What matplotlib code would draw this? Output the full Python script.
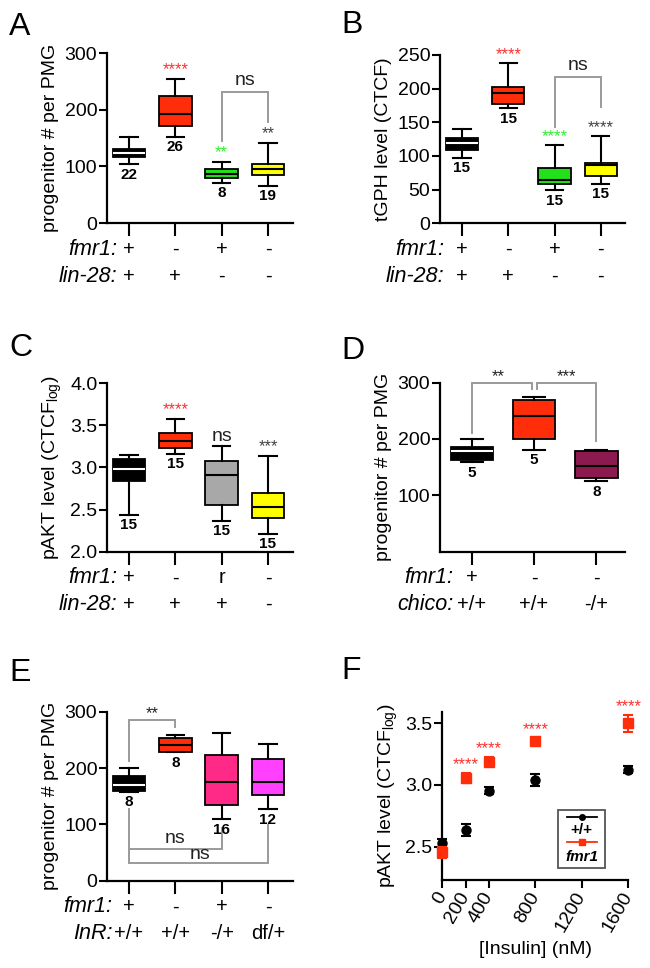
import matplotlib
matplotlib.use('Agg')
import matplotlib.pyplot as plt
from matplotlib.patches import Rectangle
from matplotlib.lines import Line2D

plt.rcParams['font.family'] = ['Liberation Sans', 'DejaVu Sans']
plt.rcParams['mathtext.fontset'] = 'custom'
plt.rcParams['mathtext.rm'] = 'Liberation Sans'
plt.rcParams['mathtext.it'] = 'Liberation Sans:italic'

RED = '#ff2d0a'
GREEN = '#22e01a'
YELLOW = '#ffff00'
GRAY = '#a8a8a8'
PURPLE = '#8c1a4e'
PINK = '#ff2a88'
MAGENTA = '#ff40ff'
BRACKET = '#9a9a9a'
STAR_RED = '#ff3030'
STAR_GREEN = '#30f030'
STAR_DARK = '#404040'

# ---- panel A: progenitor # per PMG
a_lo = [104, 152, 71, 66]
a_q1 = [116, 171, 80, 85]
a_med = [123, 192, 87, 95]
a_q3 = [130, 225, 95, 105]
a_hi = [152, 255, 108, 142]
a_n = ['22', '26', '8', '19']
a_stars = ['', '****', '**', '**']
a_fmr1 = ['+', '-', '+', '-']
a_lin28 = ['+', '+', '-', '-']

# ---- panel B: tGPH level
b_lo = [97, 171, 49, 59]
b_q1 = [109, 177, 59, 71]
b_med = [120, 193, 64, 86]
b_q3 = [126, 203, 82, 89]
b_hi = [140, 238, 116, 129]
b_n = ['15', '15', '15', '15']
b_stars = ['', '****', '****', '****']
b_fmr1 = ['+', '-', '+', '-']
b_lin28 = ['+', '+', '-', '-']

# ---- panel C: pAKT level
c_lo = [2.44, 3.16, 2.37, 2.21]
c_q1 = [2.84, 3.23, 2.56, 2.40]
c_med = [2.98, 3.315, 2.91, 2.53]
c_q3 = [3.10, 3.41, 3.08, 2.70]
c_hi = [3.15, 3.58, 3.25, 3.14]
c_n = ['15', '15', '15', '15']
c_stars = ['', '****', 'ns', '***']
c_fmr1 = ['+', '-', 'r', '-']
c_lin28 = ['+', '+', '+', '-']

# ---- panel D: chico
d_lo = [159, 181, 125]
d_q1 = [162, 200, 131]
d_med = [178, 240, 152]
d_q3 = [186, 269, 178]
d_hi = [200, 275, 180]
d_n = ['5', '5', '8']
d_fmr1 = ['+', '-', '-']
d_chico = ['+/+', '+/+', '-/+']

# ---- panel E: InR
e_lo = [158, 228, 109, 127]
e_q1 = [159, 229, 135, 152]
e_med = [169, 241, 175, 176]
e_q3 = [185, 254, 223, 216]
e_hi = [200, 259, 263, 242]
e_n = ['8', '8', '16', '12']
e_fmr1 = ['+', '-', '+', '-']
e_inr = ['+/+', '+/+', '-/+', 'df/+']

# ---- panel F: insulin dose response
ins_x = [0, 200, 400, 800, 1600]
wt_y = [2.53, 2.635, 2.955, 3.04, 3.125]
wt_err = [0.035, 0.045, 0.03, 0.05, 0.03]
fmr_y = [2.455, 3.055, 3.19, 3.36, 3.50]
fmr_err = [0.045, 0.04, 0.035, 0.02, 0.07]
fmr_stars = ['', '****', '****', '****', '****']

TICK_FS = 14
LABEL_FS = 14
STAR_FS = 12
N_FS = 11
NAME_FS = 15.5
SIGN_FS = 14.5

fig = plt.figure(figsize=(6.5, 9.68), dpi=100)


def style_axes(ax):
    for s in ['top', 'right']:
        ax.spines[s].set_visible(False)
    for s in ['left', 'bottom']:
        ax.spines[s].set_linewidth(1.6)
    ax.tick_params(axis='y', direction='out', length=6, width=1.5, labelsize=TICK_FS, pad=1)
    ax.tick_params(axis='x', direction='out', length=9, width=1.5, labelsize=TICK_FS)


def box_panel(ax, lo, q1, med, q3, hi, colors, nlab, width=0.7, capw=0.37):
    stats = []
    for i in range(len(lo)):
        stats.append(dict(whislo=lo[i], q1=q1[i], med=med[i], q3=q3[i], whishi=hi[i]))
    pos = list(range(len(lo)))
    bp = ax.bxp(stats, positions=pos, widths=width, capwidths=capw,
                patch_artist=True, showfliers=False, manage_ticks=False,
                boxprops=dict(linewidth=1.3, edgecolor='black'),
                whiskerprops=dict(linewidth=1.5, color='black'),
                capprops=dict(linewidth=1.5, color='black'),
                medianprops=dict(linewidth=1.5, color='black'))
    for i, box in enumerate(bp['boxes']):
        box.set_facecolor(colors[i])
        if colors[i] == 'black':
            bp['medians'][i].set_color('white')
    for i in range(len(lo)):
        ax.annotate(nlab[i], xy=(i, lo[i]), xytext=(0, -2.5), textcoords='offset points',
                    ha='center', va='top', fontsize=N_FS, fontweight='bold')
    ax.set_xticks(pos)
    ax.set_xticklabels([])
    style_axes(ax)


def genotype_rows(ax, rows, names, xname=-0.3):
    tr = ax.get_xaxis_transform()
    ys = [-0.155, -0.315]
    for r, row in enumerate(rows):
        ax.text(xname, ys[r], names[r], transform=tr, ha='right', va='center',
                fontsize=NAME_FS, style='italic')
        for i, s in enumerate(row):
            ax.text(i, ys[r], s, transform=tr, ha='center', va='center', fontsize=SIGN_FS)


def stars(ax, xs, ys, labels, colors, dy=1):
    for i in range(len(xs)):
        if labels[i] == '':
            continue
        fs = 14 if labels[i] == 'ns' else STAR_FS
        ax.annotate(labels[i], xy=(xs[i], ys[i]), xytext=(0, dy), textcoords='offset points',
                    ha='center', va='bottom', fontsize=fs, color=colors[i])


def bracket(ax, xs, ys, label=None, lx=None, ly=None, fs=14):
    ax.plot(xs, ys, color=BRACKET, lw=1.4, clip_on=False, solid_joinstyle='miter')
    if label:
        ax.text(lx, ly, label, ha='center', va='center', fontsize=fs, color='#222222')


# ---------------- A
axA = fig.add_axes([0.1646, 0.7696, 0.2862, 0.1756])
box_panel(axA, a_lo, a_q1, a_med, a_q3, a_hi, ['black', RED, GREEN, YELLOW], a_n)
axA.set_xlim(-0.475, 3.54)
axA.set_ylim(0, 300)
axA.set_yticks([0, 100, 200, 300])
axA.set_ylabel('progenitor # per PMG', fontsize=LABEL_FS)
stars(axA, range(4), a_hi, a_stars, ['k', STAR_RED, STAR_GREEN, STAR_DARK])
bracket(axA, [2, 2, 3, 3], [145, 231, 231, 179], 'ns', 2.5, 252)
genotype_rows(axA, [a_fmr1, a_lin28], ['fmr1:', 'lin-28:'], -0.26)

# ---------------- B
axB = fig.add_axes([0.6769, 0.7693, 0.2846, 0.1739])
box_panel(axB, b_lo, b_q1, b_med, b_q3, b_hi, ['black', RED, GREEN, YELLOW], b_n)
axB.set_xlim(-0.475, 3.52)
axB.set_ylim(0, 250)
axB.set_yticks([0, 50, 100, 150, 200, 250])
axB.set_ylabel('tGPH level (CTCF)', fontsize=LABEL_FS)
stars(axB, range(4), b_hi, b_stars, ['k', STAR_RED, STAR_GREEN, STAR_DARK])
bracket(axB, [2, 2, 3, 3], [143, 218, 218, 173], 'ns', 2.5, 235)
genotype_rows(axB, [b_fmr1, b_lin28], ['fmr1:', 'lin-28:'], -0.38)

# ---------------- C
axC = fig.add_axes([0.1646, 0.4301, 0.2862, 0.174])
box_panel(axC, c_lo, c_q1, c_med, c_q3, c_hi, ['black', RED, GRAY, YELLOW], c_n)
axC.set_xlim(-0.475, 3.54)
axC.set_ylim(2.0, 4.0)
axC.set_yticks([2.0, 2.5, 3.0, 3.5, 4.0])
axC.set_yticklabels(['2.0', '2.5', '3.0', '3.5', '4.0'])
axC.set_ylabel('pAKT level (CTCF$_{\\mathrm{log}}$)', fontsize=LABEL_FS)
stars(axC, range(4), c_hi, c_stars, ['k', STAR_RED, '#222222', STAR_DARK])
genotype_rows(axC, [c_fmr1, c_lin28], ['fmr1:', 'lin-28:'], -0.26)

# ---------------- D
axD = fig.add_axes([0.6769, 0.4301, 0.2846, 0.1746])
box_panel(axD, d_lo, d_q1, d_med, d_q3, d_hi, ['black', RED, PURPLE], d_n, width=0.68, capw=0.35)
axD.set_xlim(-0.51, 2.46)
axD.set_ylim(0, 300)
axD.set_yticks([100, 200, 300])
axD.set_ylabel('progenitor # per PMG', fontsize=LABEL_FS)
bracket(axD, [0, 0, 0.97, 0.97], [211, 300, 300, 289], '**', 0.42, 311, fs=STAR_FS)
bracket(axD, [1.04, 1.04, 2, 2], [289, 300, 300, 197], '***', 1.52, 311, fs=STAR_FS)
genotype_rows(axD, [d_fmr1, d_chico], ['fmr1:', 'chico:'], -0.3)

# ---------------- E
axE = fig.add_axes([0.1646, 0.0902, 0.2862, 0.1746])
box_panel(axE, e_lo, e_q1, e_med, e_q3, e_hi, ['black', RED, PINK, MAGENTA], e_n)
axE.set_xlim(-0.475, 3.54)
axE.set_ylim(0, 300)
axE.set_yticks([0, 100, 200, 300])
axE.set_ylabel('progenitor # per PMG', fontsize=LABEL_FS)
bracket(axE, [0, 0, 1, 1], [213, 286, 286, 273], '**', 0.5, 296, fs=STAR_FS)
bracket(axE, [0, 0, 2, 2], [128, 57, 57, 93], 'ns', 1.0, 75)
bracket(axE, [0, 0, 3, 3], [57, 31, 31, 99], 'ns', 1.53, 47)
genotype_rows(axE, [e_fmr1, e_inr], ['fmr1:', 'InR:'], -0.36)

# ---------------- F
axF = fig.add_axes([0.6805, 0.0909, 0.2862, 0.1739])
axF.errorbar(ins_x, wt_y, yerr=wt_err, fmt='o', color='black', ms=6.5, capsize=3.5,
             elinewidth=1.5, capthick=1.5, clip_on=False, zorder=3)
axF.errorbar(ins_x, fmr_y, yerr=fmr_err, fmt='s', color=RED, ms=6.5, capsize=3.5,
             elinewidth=1.5, capthick=1.5, clip_on=False, zorder=4)
for i in range(len(ins_x)):
    if fmr_stars[i]:
        axF.annotate(fmr_stars[i], xy=(ins_x[i], fmr_y[i] + fmr_err[i]), xytext=(0, 0.5),
                     textcoords='offset points', ha='center', va='bottom',
                     fontsize=STAR_FS, color=STAR_RED, annotation_clip=False)
axF.set_xlim(0, 1600)
axF.set_ylim(2.23, 3.594)
axF.set_yticks([2.5, 3.0, 3.5])
axF.set_yticklabels(['2.5', '3.0', '3.5'])
axF.set_xticks([0, 200, 400, 800, 1200, 1600])
style_axes(axF)
axF.tick_params(axis='x', length=6)
for lab in axF.get_xticklabels():
    lab.set_rotation(60)
    lab.set_ha('right')
    lab.set_va('center')
    lab.set_rotation_mode('anchor')
axF.set_xlabel('[Insulin] (nM)', fontsize=LABEL_FS)
axF.set_ylabel('pAKT level (CTCF$_{\\mathrm{log}}$)', fontsize=LABEL_FS)

# legend (label under its handle)
axF.add_patch(Rectangle((0.622, 0.071), 0.253, 0.345, transform=axF.transAxes,
                        fill=False, edgecolor='#555555', lw=1.3, clip_on=False))
axF.add_line(Line2D([0.67, 0.75, 0.83], [0.376, 0.376, 0.376], transform=axF.transAxes,
                    color='black', lw=1.3, marker='o', ms=4, markevery=[1], clip_on=False))
axF.add_line(Line2D([0.67, 0.75, 0.83], [0.224, 0.224, 0.224], transform=axF.transAxes,
                    color=RED, lw=1.3, marker='s', ms=4, markevery=[1], clip_on=False))
axF.text(0.75, 0.3, '+/+', transform=axF.transAxes, ha='center', va='center',
         fontsize=11, fontweight='bold')
axF.text(0.75, 0.135, 'fmr1', transform=axF.transAxes, ha='center', va='center',
         fontsize=11, fontweight='bold', style='italic')

# panel letters
for lab, x, y in [('A', 0.014, 0.988), ('B', 0.525, 0.99), ('C', 0.014, 0.656),
                  ('D', 0.525, 0.653), ('E', 0.014, 0.32), ('F', 0.525, 0.322)]:
    fig.text(x, y, lab, fontsize=23, ha='left', va='top')

fig.savefig('out.png', dpi=100)
